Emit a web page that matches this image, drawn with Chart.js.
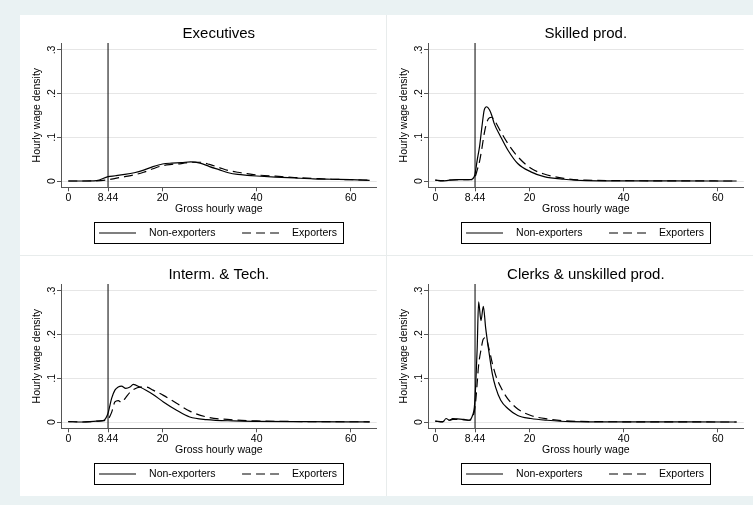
<!DOCTYPE html>
<html>
<head>
<meta charset="utf-8">
<script src="https://cdn.jsdelivr.net/npm/chart.js@4.4.1/dist/chart.umd.min.js"></script>
<style>
  body { margin: 0; background: #eaf2f3; width: 753px; height: 505px; overflow: hidden; }
  #wrap { position: absolute; left: 20px; top: 15px; width: 733px; height: 481px; background: #e8ecec; }
  canvas { position: absolute; background: #fff; }
</style>
</head>
<body>
<div id="wrap">
  <canvas id="c0" width="366" height="240" style="left:0;top:0"></canvas>
  <canvas id="c1" width="366" height="240" style="left:367px;top:0"></canvas>
  <canvas id="c2" width="366" height="240" style="left:0;top:241px"></canvas>
  <canvas id="c3" width="366" height="240" style="left:367px;top:241px"></canvas>
</div>
<script>
// axis setup
const xTicks = [0, 8.44, 20, 40, 60]
const yTicks = [0, 0.1, 0.2, 0.3]
const yTickLabels = ['0', '.1', '.2', '.3']
const xMin = -1.55, xMax = 65.5
const yMin = -0.0144, yMax = 0.316
const minWage = 8.44
const seriesNames = ['Non-exporters', 'Exporters']
const panelTitles = ['Executives', 'Skilled prod.', 'Interm. & Tech.', 'Clerks & unskilled prod.']

// Executives
const execWage = [0, 3, 6, 8.44, 10, 12, 14, 16, 18, 20, 22, 24, 26, 28, 30, 32, 34, 36, 38, 40, 44, 48, 52, 56, 60, 64]
const execNon = [0, 0, 0.001, 0.010, 0.012, 0.015, 0.019, 0.025, 0.033, 0.039, 0.041, 0.042, 0.044, 0.041, 0.033, 0.026, 0.019, 0.015, 0.013, 0.0115, 0.009, 0.007, 0.005, 0.004, 0.003, 0.0015]
const execExp = [0, 0, 0.0005, 0.003, 0.006, 0.010, 0.014, 0.020, 0.028, 0.035, 0.038, 0.040, 0.043, 0.043, 0.038, 0.031, 0.024, 0.020, 0.017, 0.014, 0.011, 0.008, 0.006, 0.004, 0.003, 0.002]

// Skilled production workers
const skillWage = [0, 1.5, 3, 5, 7, 7.8, 8.4, 8.9, 9.4, 9.9, 10.4, 10.9, 11.5, 12, 12.5, 13.9, 15.4, 17.5, 20.3, 23.1, 27.3, 32, 40, 50, 64]
const skillNon = [0.002, 0.000, 0.002, 0.003, 0.003, 0.004, 0.014, 0.048, 0.079, 0.124, 0.163, 0.170, 0.163, 0.150, 0.132, 0.101, 0.071, 0.040, 0.021, 0.010, 0.004, 0.001, 0.0005, 0.0002, 0]
const skillExp = [0.002, 0.001, 0.002, 0.003, 0.003, 0.003, 0.008, 0.025, 0.045, 0.075, 0.109, 0.133, 0.145, 0.146, 0.140, 0.113, 0.086, 0.056, 0.029, 0.016, 0.006, 0.002, 0.0008, 0.0003, 0]

// Intermediate & technicians
const interWage = [0, 3, 6, 7.4, 8.4, 9.2, 9.9, 10.6, 11.3, 12.2, 13.1, 13.8, 15.2, 16.6, 18.0, 20.2, 23.0, 25.8, 29.4, 35, 40, 50, 64]
const interNon = [0.001, 0.000, 0.002, 0.003, 0.019, 0.054, 0.073, 0.080, 0.082, 0.077, 0.080, 0.086, 0.080, 0.072, 0.063, 0.046, 0.027, 0.0115, 0.0055, 0.0025, 0.0015, 0.0008, 0.0003]
const interExp = [0.001, 0.000, 0.002, 0.003, 0.006, 0.022, 0.046, 0.049, 0.045, 0.056, 0.068, 0.074, 0.080, 0.080, 0.073, 0.061, 0.043, 0.025, 0.0115, 0.005, 0.0025, 0.001, 0.0005]

// Clerks & unskilled
const clerkWage = [0, 1.6, 2.3, 3.0, 3.7, 4.7, 6.1, 7.2, 7.9, 8.3, 8.6, 8.9, 9.2, 9.7, 10.2, 10.7, 11.4, 12.1, 12.8, 13.9, 15.4, 17.5, 20.3, 23.8, 28.7, 40, 64]
const clerkNon = [0.002, 0.000, 0.008, 0.004, 0.008, 0.007, 0.006, 0.004, 0.015, 0.034, 0.088, 0.170, 0.275, 0.232, 0.265, 0.215, 0.160, 0.111, 0.080, 0.050, 0.031, 0.015, 0.008, 0.004, 0.001, 0.0003, 0]
const clerkExp = [0.002, 0.001, 0.006, 0.004, 0.006, 0.006, 0.005, 0.004, 0.010, 0.025, 0.050, 0.090, 0.130, 0.165, 0.190, 0.193, 0.168, 0.135, 0.108, 0.080, 0.053, 0.030, 0.015, 0.007, 0.002, 0.0005, 0]

Chart.defaults.font.family = "'Liberation Sans', Arial, Helvetica, sans-serif"
Chart.defaults.color = '#000'

// stata style boxed legend under the x axis title
const boxLegend = {
    id: 'boxLegend',
    afterDraw(chart) {
        const {ctx, chartArea} = chart
        const cx = (chartArea.left + chartArea.right) / 2
        const top = Math.round(chartArea.bottom + 34.7) + 0.5
        const mid = top + 10.5
        ctx.save()
        ctx.strokeStyle = '#000'
        ctx.lineWidth = 1
        ctx.strokeRect(Math.round(cx - 124.5) + 0.5, top, 249, 21)
        ctx.font = "10.5px 'Liberation Sans', Arial, sans-serif"
        ctx.fillStyle = '#000'
        ctx.textBaseline = 'middle'
        const starts = [-119.8, 23.2]
        chart.data.datasets.slice(0, 2).forEach((ds, i) => {
            const x0 = cx + starts[i]
            ctx.beginPath()
            ctx.setLineDash(ds.borderDash || [])
            ctx.lineWidth = ds.borderWidth
            ctx.moveTo(x0, mid)
            ctx.lineTo(x0 + 37, mid)
            ctx.stroke()
            ctx.setLineDash([])
            ctx.fillText(ds.label, x0 + 50, mid)
        })
        ctx.restore()
    }
}

function makeChart(id, title, wage, nonExp, exp) {
    const toPoints = (ys) => wage.map((w, i) => ({x: w, y: ys[i]}))
    const lineStyle = {borderColor: '#000', borderWidth: 1.2, pointRadius: 0, cubicInterpolationMode: 'monotone', fill: false}

    new Chart(document.getElementById(id), {
        type: 'line',
        data: {
            datasets: [
                {...lineStyle, label: seriesNames[0], data: toPoints(nonExp)},
                {...lineStyle, label: seriesNames[1], data: toPoints(exp), borderDash: [9, 5]},
                {label: '', data: [{x: minWage, y: yMin}, {x: minWage, y: yMax}], borderColor: '#000', borderWidth: 1, pointRadius: 0}
            ]
        },
        options: {
            responsive: false,
            animation: false,
            layout: {padding: {top: 0, left: 0, right: 9.3, bottom: 39.7}},
            plugins: {
                legend: {display: false},
                tooltip: {enabled: false},
                title: {
                    display: true, text: title, fullSize: false, color: '#000',
                    font: {size: 15, weight: 'normal'}, padding: {top: 10, bottom: 0}
                }
            },
            scales: {
                x: {
                    type: 'linear', min: xMin, max: xMax,
                    afterBuildTicks: (s) => { s.ticks = xTicks.map(v => ({value: v})) },
                    afterFit: (s) => { s.height = 28 },
                    ticks: {callback: (v) => String(v), font: {size: 10.5}, padding: 1, maxRotation: 0, autoSkip: false},
                    grid: {drawOnChartArea: false, tickLength: 4, tickColor: '#555'},
                    border: {color: '#555', width: 1},
                    title: {display: true, text: 'Gross hourly wage', font: {size: 10.5}, padding: 0}
                },
                y: {
                    min: yMin, max: yMax,
                    afterBuildTicks: (s) => { s.ticks = yTicks.map(v => ({value: v})) },
                    afterFit: (s) => { s.width = 41 },
                    ticks: {callback: (v, i) => yTickLabels[i], font: {size: 10.5}, minRotation: 90, maxRotation: 90, crossAlign: 'center', padding: 1},
                    grid: {color: '#e6e6e6', tickLength: 4, tickColor: '#555'},
                    border: {color: '#555', width: 1},
                    title: {display: true, text: 'Hourly wage density', font: {size: 10.5}, padding: {top: 11.2, bottom: 0}}
                }
            }
        },
        plugins: [boxLegend]
    })
}

makeChart('c0', panelTitles[0], execWage, execNon, execExp)
makeChart('c1', panelTitles[1], skillWage, skillNon, skillExp)
makeChart('c2', panelTitles[2], interWage, interNon, interExp)
makeChart('c3', panelTitles[3], clerkWage, clerkNon, clerkExp)
</script>
</body>
</html>
